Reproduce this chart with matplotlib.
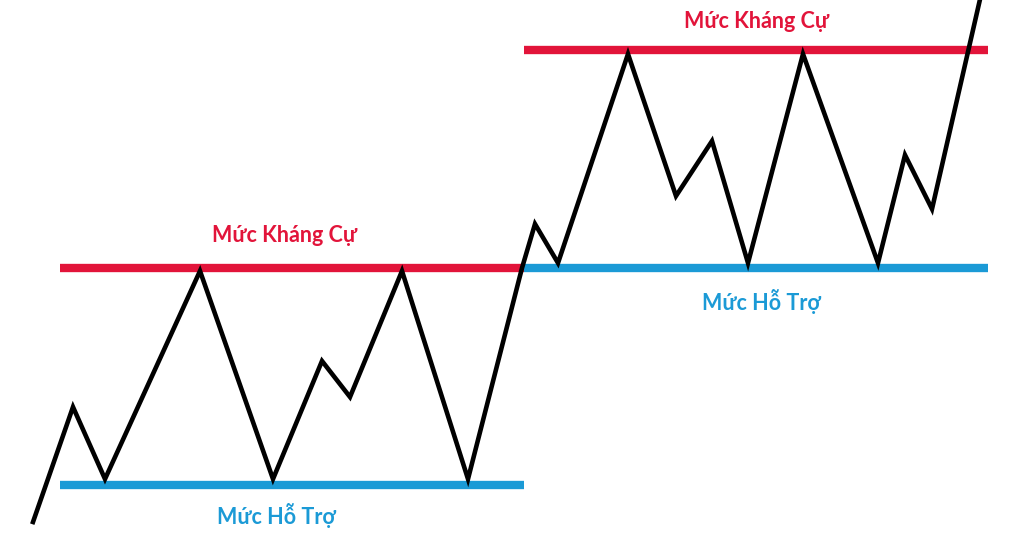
import matplotlib.pyplot as plt

# price path (x, level), level axis points down
path_x = [33, 73, 105, 200, 273, 322, 350, 402, 468, 522, 535, 558, 628, 676, 712, 748, 803, 878, 905, 932, 981]
path_y = [522, 407, 479, 271, 479, 361, 397, 271, 479, 268, 224, 263, 54, 196, 141, 263, 54, 263, 155, 209, -5]

# horizontal levels: (x start, x end, level)
resist_levels = [(60, 524, 268), (524, 988, 50)]
support_levels = [(60, 524, 485), (524, 988, 268)]

resist_label = "Mức Kháng Cự"
support_label = "Mức Hỗ Trợ"
resist_label_pos = [(284, 236), (756, 21)]
support_label_pos = [(276, 516), (761, 301)]

red = "#e2143a"
blue = "#1b9ad6"

plt.rcParams['font.family'] = ['Lato', 'DejaVu Sans']

fig = plt.figure(figsize=(10.3, 5.39), dpi=100)
ax = fig.add_axes([0, 0, 1, 1])
ax.set_xlim(0, 1030)
ax.set_ylim(539, 0)
ax.axis('off')

for x0, x1, lv in resist_levels:
    ax.plot([x0, x1], [lv, lv], color=red, lw=6, solid_capstyle='butt', zorder=1)
for x0, x1, lv in support_levels:
    ax.plot([x0, x1], [lv, lv], color=blue, lw=6, solid_capstyle='butt', zorder=1)

ax.plot(path_x, path_y, color='black', lw=3.3, solid_joinstyle='miter', zorder=2)

for x, y in resist_label_pos:
    ax.text(x, y, resist_label, color=red, fontsize=15.5, fontweight='bold',
            ha='center', va='center')
for x, y in support_label_pos:
    ax.text(x, y, support_label, color=blue, fontsize=15.5, fontweight='bold',
            ha='center', va='center')

fig.savefig("out.png", dpi=100, facecolor='white')
